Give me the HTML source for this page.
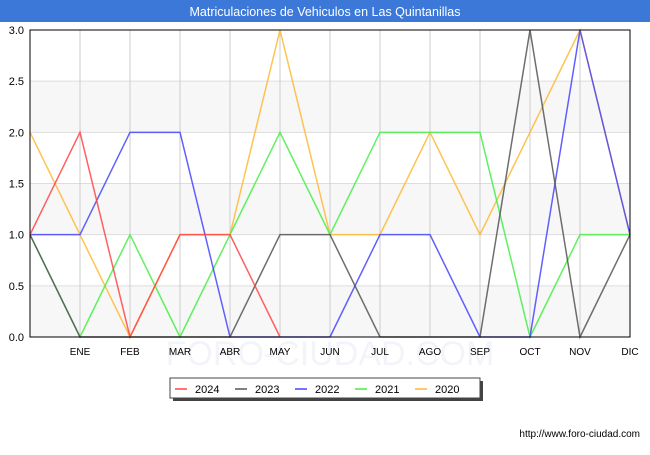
<!DOCTYPE html>
<html><head><meta charset="utf-8"><style>
body{margin:0;background:#fff;font-family:"Liberation Sans",sans-serif}
</style></head><body>
<svg width="650" height="450" xmlns="http://www.w3.org/2000/svg" font-family="Liberation Sans, sans-serif" id="chart">
<rect x="0" y="0" width="650" height="22" fill="#3b78d8"/>
<text x="325" y="16" text-anchor="middle" font-size="12.5" fill="#fff">Matriculaciones de Vehiculos en Las Quintanillas</text>
<g id="plot"></g>
<g>
<rect x="173" y="381" width="310" height="20" fill="#444"/>
<rect x="170" y="378" width="310" height="20" fill="#fff" stroke="#444"/>
<g id="legend"></g>
</g>
<text x="640" y="437" text-anchor="end" font-size="10" fill="#000">http://www.foro-ciudad.com</text>
</svg>
<script>
const months=["","ENE","FEB","MAR","ABR","MAY","JUN","JUL","AGO","SEP","OCT","NOV","DIC"];
const yTicks=[0,0.5,1,1.5,2,2.5,3];
const yTickLabels=["0.0","0.5","1.0","1.5","2.0","2.5","3.0"];
const seriesNames=["2024","2023","2022","2021","2020"];
const seriesColors=["#ff4444","#555555","#4444ff","#44ee44","#ffb833"];
const s2024=[1,2,0,1,1,0];
const s2023=[1,0,0,0,0,1,1,0,0,0,3,0,1];
const s2022=[1,1,2,2,0,0,0,1,1,0,0,3,1];
const s2021=[1,0,1,0,1,2,1,2,2,2,0,1,1];
const s2020=[2,1,0,1,1,3,1,1,2,1,2,3,1];
const NS="http://www.w3.org/2000/svg";
const X0=30,X1=630,Y0=337,Y1=30,yMax=3;
const xs=i=>X0+i*(X1-X0)/(months.length-1);
const ys=v=>Y0-v/yMax*(Y0-Y1);
const plot=document.getElementById('plot');
function mk(t,a,p){const e=document.createElementNS(NS,t);for(const k in a)e.setAttribute(k,a[k]);(p||plot).appendChild(e);return e;}
for(let i=0;i<yTicks.length-1;i++){
  if(i%2===0){const b=mk('rect',{x:X0,y:ys(yTicks[i+1]),width:X1-X0,height:ys(yTicks[i])-ys(yTicks[i+1]),fill:'#f7f7f7'});
  
  }
}
const wm=mk('text',{x:330,y:365,'text-anchor':'middle','font-size':34,fill:'#f3f4fa'});
wm.textContent='FORO-CIUDAD.COM';


yTicks.forEach((v,i)=>{
  const l=mk('line',{x1:X0,x2:X1,y1:ys(v),y2:ys(v),stroke:'#ddd'});
  
  
  const t=mk('text',{x:X0-6,y:ys(v)+4,'text-anchor':'end','font-size':11,fill:'#000'});
  t.textContent=yTickLabels[i];
  
  
});
months.forEach((m,i)=>{
  const l=mk('line',{x1:xs(i),x2:xs(i),y1:Y1,y2:Y0,stroke:'#ccc'});
  
  
  if(m){const t=mk('text',{x:xs(i),y:Y0+18,'text-anchor':'middle','font-size':10,fill:'#000'});
  t.textContent=m;
  
  }
});
const all=[s2024,s2023,s2022,s2021,s2020];
for(let k=all.length-1;k>=0;k--){
  const pts=all[k].map((v,i)=>xs(i)+','+ys(v)).join(' ');
  const p=mk('polyline',{points:pts,fill:'none',stroke:seriesColors[k],'stroke-width':1.5,'stroke-opacity':0.85});
  
  
}
mk('rect',{x:X0,y:Y1,width:X1-X0,height:Y0-Y1,fill:'none',stroke:'#000'});
const lg=document.getElementById('legend');
seriesNames.forEach((n,i)=>{
  const x=175+i*60;
  const l=mk('line',{x1:x,x2:x+12,y1:389,y2:389,stroke:seriesColors[i],'stroke-width':1.5},lg);
  
  
  const t=mk('text',{x:x+20,y:393,'font-size':11,fill:'#000'},lg);
  t.textContent=n;
  
  
});
</script>
</body></html>
